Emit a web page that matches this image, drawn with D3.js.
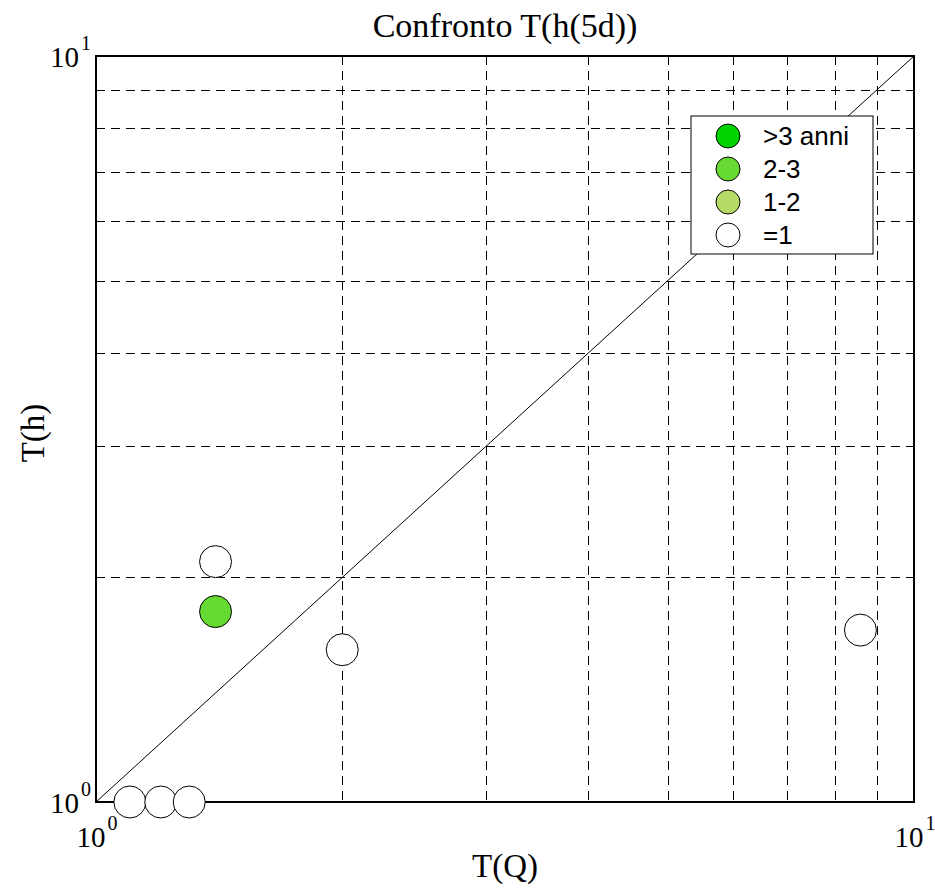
<!DOCTYPE html>
<html>
<head>
<meta charset="utf-8">
<script src="https://cdn.jsdelivr.net/npm/d3@7"></script>
<style>
  html, body { margin: 0; padding: 0; background: #fff; }
  svg { display: block; }
</style>
</head>
<body>
<svg id="chart" width="935" height="893"></svg>
<script>
// Return periods compared: T(Q) on x, T(h) on y
const tQ = [1.1, 1.2, 1.3, 1.4, 1.4, 2.0, 8.6];
const tH = [1.0, 1.0, 1.0, 2.1, 1.8, 1.6, 1.7];
const pointClass = ["=1", "=1", "=1", "=1", "2-3", "=1", "=1"];

// Legend classes (years of record) and their fills
const classNames = [">3 anni", "2-3", "1-2", "=1"];
const classColors = ["#00d200", "#66d933", "#b5da66", "#ffffff"];

// Decade tick labels: mantissa and exponent
const tickValues = [1, 10];
const tickExponents = ["0", "1"];

const titleText = "Confronto T(h(5d))";
const xLabel = "T(Q)";
const yLabel = "T(h)";

const svg = d3.select("#chart");
const plotL = 96, plotR = 914, plotT = 56, plotB = 802;

const x = d3.scaleLog().domain([1, 10]).range([plotL, plotR]);
const y = d3.scaleLog().domain([1, 10]).range([plotB, plotT]);
const color = d3.scaleOrdinal().domain(classNames).range(classColors);

const serif = "'Liberation Serif', 'Times New Roman', serif";
const sans = "'Liberation Sans', Arial, Helvetica, sans-serif";

// Minor grid lines (2..9 in each decade)
const minor = d3.range(2, 10);
const grid = svg.append("g").attr("stroke", "#000").attr("stroke-width", 1)
  .attr("stroke-dasharray", "9,6");
grid.selectAll("line.v").data(minor).join("line")
  .attr("class", "v")
  .attr("x1", d => Math.round(x(d)) + 0.5).attr("x2", d => Math.round(x(d)) + 0.5)
  .attr("y1", plotT).attr("y2", plotB);
grid.selectAll("line.h").data(minor).join("line")
  .attr("class", "h")
  .attr("y1", d => Math.round(y(d)) + 0.5).attr("y2", d => Math.round(y(d)) + 0.5)
  .attr("x1", plotL).attr("x2", plotR);

// 1:1 reference line
svg.append("line")
  .attr("x1", x(1)).attr("y1", y(1))
  .attr("x2", x(10)).attr("y2", y(10))
  .attr("stroke", "#000").attr("stroke-width", 1);

// Plot frame
svg.append("rect")
  .attr("x", plotL).attr("y", plotT)
  .attr("width", plotR - plotL).attr("height", plotB - plotT)
  .attr("fill", "none").attr("stroke", "#000").attr("stroke-width", 2);

// Data points
svg.append("g").selectAll("circle").data(tQ).join("circle")
  .attr("cx", (d, i) => x(d))
  .attr("cy", (d, i) => y(tH[i]))
  .attr("r", 16)
  .attr("fill", (d, i) => color(pointClass[i]))
  .attr("stroke", "#000").attr("stroke-width", 1);

// Legend
const lg = svg.append("g");
lg.append("rect")
  .attr("x", 691).attr("y", 116).attr("width", 182).attr("height", 138)
  .attr("fill", "#fff").attr("stroke", "#000").attr("stroke-width", 1);
const rows = lg.selectAll("g.row").data(classNames).join("g")
  .attr("class", "row")
  .attr("transform", (d, i) => `translate(728, ${136 + i * 33})`);
rows.append("circle").attr("r", 12)
  .attr("fill", d => color(d)).attr("stroke", "#000").attr("stroke-width", 1);
rows.append("text").attr("x", 35).attr("y", 8.5)
  .attr("font-family", sans).attr("font-size", 26)
  .text(d => d);

// Tick labels as 10 with superscript exponent
function powerLabel(g, ax, ay, anchor, exp) {
  const t = g.append("text").attr("x", ax).attr("y", ay)
    .attr("font-family", serif).attr("font-size", 29)
    .attr("text-anchor", anchor);
  t.append("tspan").text("10");
  t.append("tspan").attr("dy", -17).attr("dx", 2).attr("font-size", 20).text(exp);
}
const ticks = svg.append("g");
tickValues.forEach((v, i) => {
  powerLabel(ticks, x(v) + 1, 847, "middle", tickExponents[i]);
  powerLabel(ticks, 91, y(v) + 11, "end", tickExponents[i]);
});

// Title and axis labels
svg.append("text").attr("x", 505).attr("y", 37)
  .attr("text-anchor", "middle").attr("font-family", serif).attr("font-size", 34)
  .text(titleText);
svg.append("text").attr("x", 505).attr("y", 877)
  .attr("text-anchor", "middle").attr("font-family", serif).attr("font-size", 33)
  .text(xLabel);
svg.append("text")
  .attr("transform", "translate(44, 433) rotate(-90)")
  .attr("text-anchor", "middle").attr("font-family", serif).attr("font-size", 33)
  .text(yLabel);
</script>
</body>
</html>
